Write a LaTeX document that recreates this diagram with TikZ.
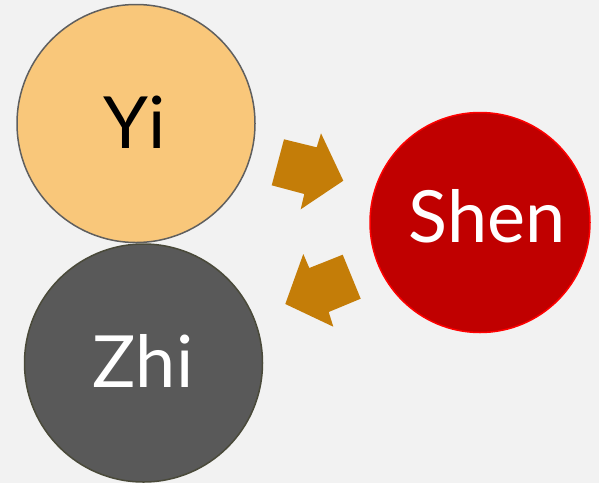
\documentclass[tikz,border=0pt]{standalone}
\usepackage{fontspec}
\setmainfont{Lato}
\definecolor{bg}{HTML}{F2F2F2}
\definecolor{yifill}{HTML}{F9C77A}
\definecolor{yiline}{HTML}{5F5F5F}
\definecolor{zhifill}{HTML}{595959}
\definecolor{zhiline}{HTML}{4A4A3A}
\definecolor{shenfill}{HTML}{C00000}
\definecolor{shenline}{HTML}{FF0000}
\definecolor{arrowc}{HTML}{C47D08}
\tikzset{
  bubble/.style={circle, line width=1.5pt, inner sep=0pt},
  bubbletext/.style={anchor=base, inner sep=0pt, font=\fontsize{72}{80}\selectfont},
  blockarrow/.style={fill=arrowc, draw=none}
}
\begin{document}
\begin{tikzpicture}[x=1pt,y=-1pt]
\fill[bg] (0,0) rectangle (599,483);
\useasboundingbox (0,0) rectangle (599,483);
\node[bubble, fill=yifill, draw=yiline, minimum size=238pt] (yi) at (136,123.5) {};
\node[bubble, fill=zhifill, draw=zhiline, minimum size=238pt] (zhi) at (143.5,363) {};
\node[bubble, fill=shenfill, draw=shenline, minimum size=220pt] (shen) at (480,222.5) {};
\node[bubbletext, text=black] (yitext) at (135,148) {Yi};
\node[bubbletext, text=white] (zhitext) at (143,387) {Zhi};
\node[bubbletext, text=white] (shentext) at (487,242) {Shen};
\fill[blockarrow] (284,139.3) -- (316.7,147.3) -- (321,133.3) -- (343.3,180.7) -- (300.7,209.3) -- (304.3,194) -- (271.7,185.3) -- cycle;
\fill[blockarrow] (303.3,254) -- (309.3,268) -- (342.7,254.7) -- (360.7,298.7) -- (328.7,312) -- (333.3,326.7) -- (285.3,304) -- cycle;
\end{tikzpicture}
\end{document}
